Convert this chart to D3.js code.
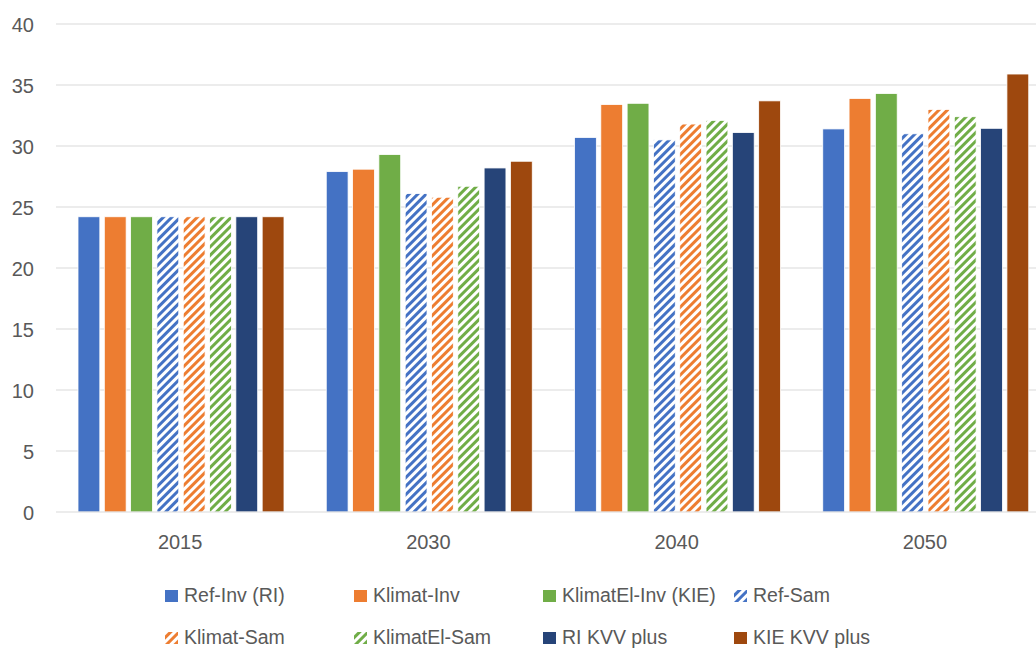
<!DOCTYPE html>
<html>
<head>
<meta charset="utf-8">
<script src="https://cdn.jsdelivr.net/npm/d3@7"></script>
<style>
  body { margin: 0; background: #fff; }
  text { font-family: "Liberation Sans", "DejaVu Sans", sans-serif; fill: #595959; }
</style>
</head>
<body>
<svg id="chart" width="1036" height="650"></svg>
<script>
var years = ['2015', '2030', '2040', '2050'];
var seriesNames = ['Ref-Inv (RI)', 'Klimat-Inv', 'KlimatEl-Inv (KIE)', 'Ref-Sam',
                   'Klimat-Sam', 'KlimatEl-Sam', 'RI KVV plus', 'KIE KVV plus'];
var seriesColors = ['#4472C4', '#ED7D31', '#70AD47', '#4472C4', '#ED7D31', '#70AD47', '#264478', '#9E480E'];
var seriesHatched = [false, false, false, true, true, true, false, false];

// one array per series, values for 2015, 2030, 2040, 2050
var refInv      = [24.2, 27.9, 30.7, 31.4];
var klimatInv   = [24.2, 28.1, 33.4, 33.9];
var klimatElInv = [24.2, 29.3, 33.5, 34.3];
var refSam      = [24.2, 26.1, 30.5, 31.0];
var klimatSam   = [24.2, 25.8, 31.8, 33.0];
var klimatElSam = [24.2, 26.7, 32.1, 32.4];
var riKvv       = [24.2, 28.2, 31.1, 31.45];
var kieKvv      = [24.2, 28.75, 33.7, 35.9];
var allSeries = [refInv, klimatInv, klimatElInv, refSam, klimatSam, klimatElSam, riKvv, kieKvv];

var yTicks = [0, 5, 10, 15, 20, 25, 30, 35, 40];

var svg = d3.select('#chart');

// hatch patterns for the "Sam" series
var defs = svg.append('defs');
seriesNames.forEach(function (name, i) {
  if (!seriesHatched[i]) return;
  var p = defs.append('pattern')
    .attr('id', 'hatch' + i)
    .attr('patternUnits', 'userSpaceOnUse')
    .attr('width', 6)
    .attr('height', 6)
    .attr('patternTransform', 'rotate(45)');
  p.append('rect').attr('width', 6).attr('height', 6).attr('fill', '#fff');
  p.append('rect').attr('x', 0).attr('width', 3).attr('height', 6).attr('fill', seriesColors[i]);
});

var x = d3.scaleBand().domain(years).range([56, 1049]).paddingInner(0).paddingOuter(0);
var y = d3.scaleLinear().domain([0, 40]).range([512, 24]);
var xs = d3.scaleBand().domain(d3.range(seriesNames.length)).range([22, 228]).paddingInner(0.17);

// gridlines
svg.append('g')
  .selectAll('line')
  .data(yTicks.slice(1))
  .enter()
  .append('line')
  .attr('x1', 56).attr('x2', 1036)
  .attr('y1', d => y(d)).attr('y2', d => y(d))
  .style('stroke', '#d9d9d9')
  .style('stroke-width', 1);

// y tick labels
svg.append('g')
  .selectAll('text')
  .data(yTicks)
  .enter()
  .append('text')
  .attr('x', 34)
  .attr('y', d => y(d) + 7.5)
  .attr('text-anchor', 'end')
  .style('font-size', '20px')
  .text(d => d);

// bars
var groups = svg.append('g')
  .selectAll('g')
  .data(years)
  .enter()
  .append('g')
  .attr('transform', d => 'translate(' + x(d) + ',0)');

groups.selectAll('rect')
  .data((yr, yi) => allSeries.map((s, si) => ({ si: si, v: s[yi] })))
  .enter()
  .append('rect')
  .attr('x', d => xs(d.si))
  .attr('width', xs.bandwidth())
  .attr('y', d => y(d.v))
  .attr('height', d => y(0) - y(d.v))
  .attr('fill', d => seriesHatched[d.si] ? 'url(#hatch' + d.si + ')' : seriesColors[d.si])
  .style('stroke', '#fff')
  .style('stroke-width', 0.8);

// x axis line
svg.append('line')
  .attr('x1', 56).attr('x2', 1036)
  .attr('y1', y(0)).attr('y2', y(0))
  .style('stroke', '#d9d9d9')
  .style('stroke-width', 1.2);

// x labels
svg.append('g')
  .selectAll('text')
  .data(years)
  .enter()
  .append('text')
  .attr('x', d => x(d) + x.bandwidth() / 2)
  .attr('y', 549)
  .attr('text-anchor', 'middle')
  .style('font-size', '20px')
  .text(d => d);

// legend
var legendCols = [165, 354, 543, 734];
var legendRows = [602, 644];
var legend = svg.append('g')
  .selectAll('g')
  .data(seriesNames)
  .enter()
  .append('g')
  .attr('transform', (d, i) => 'translate(' + legendCols[i % 4] + ',' + legendRows[Math.floor(i / 4)] + ')');

legend.append('rect')
  .attr('x', 0).attr('y', -12)
  .attr('width', 13).attr('height', 12)
  .attr('fill', (d, i) => seriesHatched[i] ? 'url(#hatch' + i + ')' : seriesColors[i]);

legend.append('text')
  .attr('x', 19)
  .attr('y', 0)
  .style('font-size', '19.5px')
  .text(d => d);
</script>
</body>
</html>
